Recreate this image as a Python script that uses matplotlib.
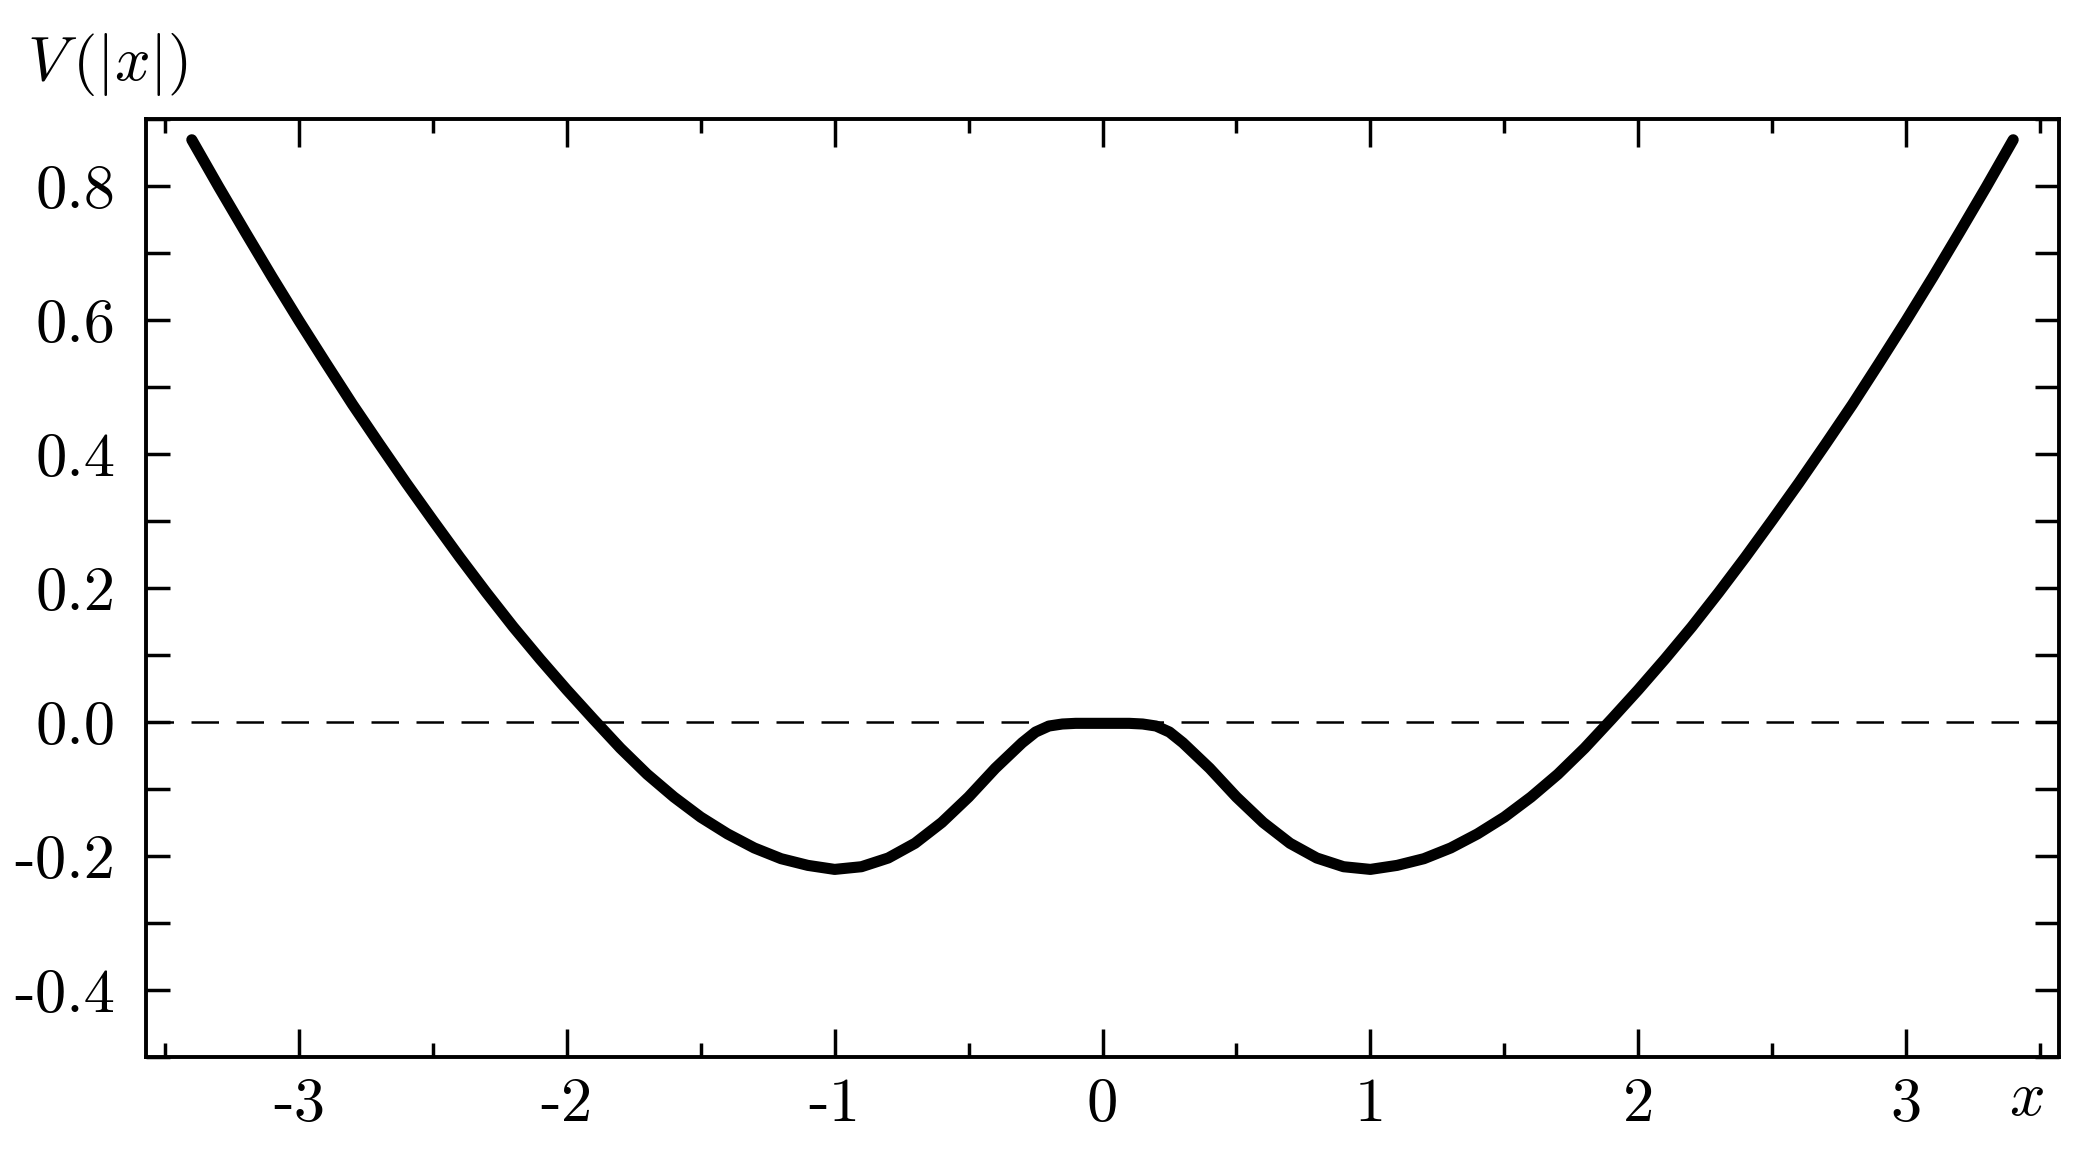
import numpy as np
import matplotlib
matplotlib.use("Agg")
import matplotlib.pyplot as plt
from matplotlib.ticker import MultipleLocator, FixedLocator

plt.rcParams["font.family"] = "cmr10"
plt.rcParams["mathtext.fontset"] = "cm"
plt.rcParams["axes.unicode_minus"] = False

# V(|x|) for x <= 0; the right half is its mirror
x_half = [-3.40, -3.30, -3.20, -3.10, -3.00, -2.90, -2.80, -2.70, -2.60, -2.50,
          -2.40, -2.30, -2.20, -2.10, -2.00, -1.90, -1.80, -1.70, -1.60, -1.50,
          -1.40, -1.30, -1.20, -1.10, -1.00, -0.90, -0.80, -0.70, -0.60, -0.50,
          -0.40, -0.30, -0.25, -0.20, -0.15, -0.10, 0.00]
v_half = [0.869, 0.799, 0.731, 0.664, 0.599, 0.536, 0.474, 0.415, 0.357, 0.301,
          0.246, 0.193, 0.142, 0.094, 0.048, 0.004, -0.039, -0.078, -0.112, -0.142,
          -0.167, -0.188, -0.204, -0.214, -0.220, -0.216, -0.203, -0.181, -0.150, -0.112,
          -0.069, -0.031, -0.015, -0.006, -0.003, -0.002, -0.002]

xticks = [-3, -2, -1, 0, 1, 2, 3]
xticklabels = ["-3", "-2", "-1", "0", "1", "2", "3"]
yticks = [-0.4, -0.2, 0.0, 0.2, 0.4, 0.6, 0.8]
yticklabels = ["-0.4", "-0.2", "0.0", "0.2", "0.4", "0.6", "0.8"]

x_full = np.concatenate([x_half, -np.array(x_half[-2::-1])])
v_full = np.concatenate([v_half, v_half[-2::-1]])

fig = plt.figure(figsize=(20.79, 11.51), dpi=100)
ax = fig.add_axes([146 / 2079, 1 - 1057 / 1151, (2059 - 146) / 2079, (1057 - 119) / 1151])

ax.axhline(0, color="black", lw=1.8, dashes=(11, 7), zorder=1)
ax.plot(x_full, v_full, color="black", lw=8, solid_capstyle="round",
        solid_joinstyle="round", zorder=2)

ax.set_xlim(-3.571, 3.571)
ax.set_ylim(-0.5, 0.9)

ax.xaxis.set_major_locator(FixedLocator(xticks))
ax.set_xticklabels(xticklabels)
ax.xaxis.set_minor_locator(MultipleLocator(0.5))
ax.yaxis.set_major_locator(FixedLocator(yticks))
ax.set_yticklabels(yticklabels)
ax.yaxis.set_minor_locator(MultipleLocator(0.1))

for s in ax.spines.values():
    s.set_linewidth(2.8)

ax.tick_params(which="both", direction="in", top=True, right=True, width=2.5,
               labelsize=45)
ax.tick_params(axis="x", which="major", length=20, pad=15)
ax.tick_params(axis="x", which="minor", length=10)
ax.tick_params(axis="y", which="both", length=17, pad=22)

fig.text(27 / 2079, 1 - 64 / 1151, r"$V\,(|x|)$", fontsize=45, ha="left", va="center")
fig.text(2026 / 2079, 1 - 1099 / 1151, r"$x$", fontsize=45, ha="center", va="center")

fig.savefig("out.png", dpi=100)
